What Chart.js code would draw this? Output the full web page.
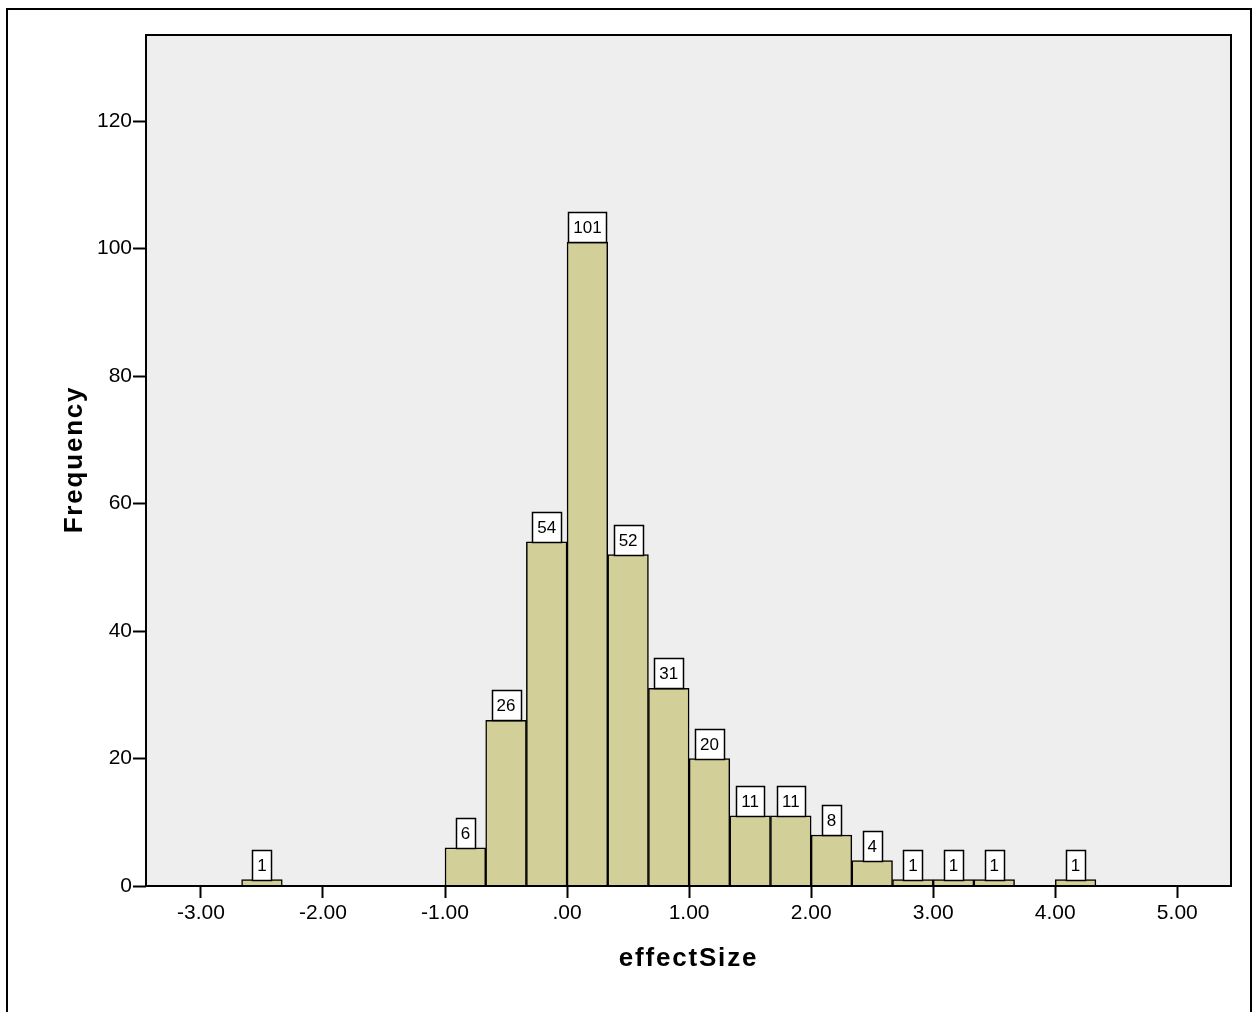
<!DOCTYPE html>
<html>
<head>
<meta charset="utf-8">
<script src="https://cdn.jsdelivr.net/npm/chart.js@4.4.1/dist/chart.umd.min.js"></script>
<style>
  body { margin: 0; background: #fff; }
  #wrap { width: 1257px; height: 1012px; position: relative; }
</style>
</head>
<body>
<div id="wrap"><canvas id="hist"></canvas></div>
<script>
// histogram bins of effectSize (width 1/3), lower edge of each non-empty bin
var binWidth = 1 / 3;
var binLow = [-8/3, -1, -2/3, -1/3, 0, 1/3, 2/3, 1, 4/3, 5/3, 2, 7/3, 8/3, 3, 10/3, 4];
var counts = [1, 6, 26, 54, 101, 52, 31, 20, 11, 11, 8, 4, 1, 1, 1, 1];
var xTicks = [-3, -2, -1, 0, 1, 2, 3, 4, 5];
var yTicks = [0, 20, 40, 60, 80, 100, 120];
var xTitle = 'effectSize';
var yTitle = 'Frequency';

var fontFam = "'Liberation Sans', Arial, Helvetica, sans-serif";

function fmtX(v) {
  if (v == 0) return '.00';
  return v.toFixed(2);
}

var points = [];
for (var i = 0; i < binLow.length; i++) {
  points.push({ x: binLow[i] + binWidth / 2, y: counts[i] });
}

// frame, grey plot background, plot border, value boxes, axis titles
var spssLook = {
  id: 'spssLook',
  beforeDraw: function (chart) {
    var ctx = chart.ctx, a = chart.chartArea;
    ctx.save();
    ctx.fillStyle = '#fff';
    ctx.fillRect(0, 0, chart.width, chart.height);
    ctx.strokeStyle = '#000';
    ctx.lineWidth = 2;
    ctx.strokeRect(7, 9, 1244, 1030);
    ctx.fillStyle = '#eeeeee';
    ctx.fillRect(a.left, a.top, a.right - a.left, a.bottom - a.top);
    ctx.restore();
  },
  afterDatasetsDraw: function (chart) {
    var ctx = chart.ctx, a = chart.chartArea;
    ctx.save();
    ctx.strokeStyle = '#000';
    ctx.lineWidth = 2;
    ctx.strokeRect(a.left, a.top, a.right - a.left, a.bottom - a.top);

    // value labels in small boxes on top of the bars
    var meta = chart.getDatasetMeta(0);
    ctx.font = '17px ' + fontFam;
    ctx.textAlign = 'center';
    ctx.textBaseline = 'middle';
    meta.data.forEach(function (bar, k) {
      var txt = String(counts[k]);
      var w = Math.round(ctx.measureText(txt).width + 10);
      var h = 30;
      var bx = Math.round(bar.x - w / 2) + 0.5;
      var by = Math.round(bar.y - h) + 0.5;
      ctx.fillStyle = '#fff';
      ctx.fillRect(bx, by, w, h);
      ctx.lineWidth = 1.5;
      ctx.strokeStyle = '#000';
      ctx.strokeRect(bx, by, w, h);
      ctx.fillStyle = '#000';
      ctx.fillText(txt, bar.x, by + h / 2 + 1);
    });

    // axis titles (SPSS spaces the bold letters a bit)
    ctx.font = 'bold 26px ' + fontFam;
    ctx.letterSpacing = '1.8px';
    ctx.fillText(xTitle, (a.left + a.right) / 2, a.bottom + 73);
    ctx.translate(75, (a.top + a.bottom) / 2 - 1);
    ctx.rotate(-Math.PI / 2);
    ctx.fillText(yTitle, 0, 0);
    ctx.restore();
  }
};

var ctx = document.getElementById('hist');

var myHist = new Chart(ctx, {
  type: 'bar',
  data: {
    datasets: [{
      label: xTitle,
      data: points,
      backgroundColor: '#d3cf98',
      borderColor: '#000',
      borderWidth: 1.5,
      barPercentage: 1,
      categoryPercentage: 1
    }]
  },
  options: {
    responsive: true,
    maintainAspectRatio: false,
    animation: false,
    layout: { padding: { top: 35, right: 26, left: 0, bottom: 0 } },
    plugins: {
      legend: { display: false },
      tooltip: { enabled: false }
    },
    scales: {
      x: {
        type: 'linear',
        min: -3.45,
        max: 5.44,
        offset: false,
        afterFit: function (s) { s.height = 126; },
        afterBuildTicks: function (s) {
          s.ticks = xTicks.map(function (v) { return { value: v }; });
        },
        grid: { offset: false, drawOnChartArea: false, tickLength: 12, tickWidth: 2, tickColor: '#000' },
        border: { display: false },
        ticks: {
          color: '#000',
          padding: 3,
          maxRotation: 0,
          font: { size: 21, family: fontFam },
          callback: function (v) { return fmtX(v); }
        }
      },
      y: {
        min: 0,
        max: 133.5,
        afterFit: function (s) { s.width = 146; },
        afterBuildTicks: function (s) {
          s.ticks = yTicks.map(function (v) { return { value: v }; });
        },
        grid: { drawOnChartArea: false, tickLength: 13, tickWidth: 2, tickColor: '#000' },
        border: { display: false },
        ticks: {
          color: '#000',
          padding: 1,
          font: { size: 21, family: fontFam }
        }
      }
    }
  },
  plugins: [spssLook]
});
</script>
</body>
</html>
